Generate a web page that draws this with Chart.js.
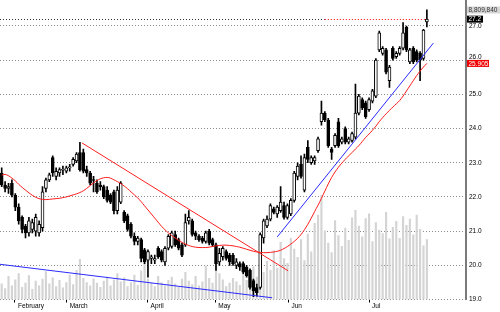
<!DOCTYPE html>
<html>
<head>
<meta charset="utf-8">
<title>Daily price chart</title>
<script src="https://cdn.jsdelivr.net/npm/chart.js@4.4.1/dist/chart.umd.min.js"></script>
<style>
  html, body { margin: 0; padding: 0; background: #fff; }
  #wrap { width: 500px; height: 312px; }
</style>
</head>
<body>
<div id="wrap"><canvas id="priceChart"></canvas></div>
<script>
// daily OHLC, index 0 = first session shown
const opens = [22.7,22.35,22.25,22.4,22.05,21.7,21.4,21.15,20.95,21.05,
  21.0,20.95,21.1,22.25,22.5,23.15,22.6,22.7,22.78,22.75,
  22.85,22.95,23.05,23.3,23.3,22.8,22.7,22.5,22.4,22.35,
  22.3,22.2,22.05,22.15,21.6,21.85,21.55,21.45,21.2,20.85,
  20.7,20.75,20.45,20.15,20.2,20.15,20.5,20.4,20.1,20.5,
  20.55,20.9,20.75,20.6,20.6,21.3,21.3,20.95,20.85,20.8,
  20.7,21.0,20.75,20.6,20.1,20.25,20.4,20.3,20.3,20.0,
  20.05,20.05,19.95,19.85,19.55,19.35,19.35,20.8,21.15,21.35,
  21.65,21.5,21.6,21.75,21.4,21.5,21.9,22.6,22.95,22.2,
  23.45,23.0,23.05,23.35,24.2,24.45,24.25,23.4,23.5,24.2,
  23.6,24.0,23.6,23.65,23.75,24.45,24.85,24.75,24.55,24.8,
  24.95,26.3,26.2,26.3,25.4,26.35,26.1,26.2,26.35,26.97,
  25.95,26.35,26.25,26.2,26.05,27.12];
const highs = [22.85,22.45,22.4,22.5,22.1,21.8,21.45,21.2,21.4,21.35,
  21.5,21.3,22.3,22.55,22.7,23.2,22.85,22.85,22.9,22.9,
  22.95,23.15,23.3,23.6,23.4,22.9,22.75,22.6,22.5,22.45,
  22.35,22.3,22.1,22.2,22.3,22.45,21.6,21.5,21.25,20.95,
  20.85,20.8,20.5,20.45,20.3,20.3,20.55,20.45,20.55,20.9,
  21.0,21.0,20.8,20.65,21.5,21.6,21.35,21.0,20.9,20.85,
  21.0,21.05,20.8,20.65,20.5,20.55,20.45,20.35,20.35,20.2,
  20.1,20.1,20.0,19.9,19.6,19.45,20.95,21.35,21.45,21.8,
  21.7,21.75,22.3,21.85,21.8,21.95,22.75,23.0,23.2,23.25,
  23.65,23.2,23.2,23.75,24.8,24.5,24.3,23.45,23.85,24.3,
  23.75,24.05,23.75,23.9,25.3,25.0,24.9,24.8,24.9,25.15,
  26.05,26.85,26.4,26.35,25.85,26.4,26.25,26.4,27.1,27.0,
  26.35,26.4,26.3,26.25,26.9,27.47];
const lows = [22.3,22.15,22.1,22.0,21.6,21.2,20.95,20.8,20.85,20.95,
  20.85,20.85,21.0,22.15,22.45,22.6,22.5,22.6,22.65,22.7,
  22.75,22.9,23.0,22.75,22.7,22.6,22.35,22.15,22.1,22.2,
  21.95,21.85,21.8,21.5,21.5,21.8,21.25,21.0,20.8,20.6,
  20.6,20.1,20.05,19.65,20.05,20.05,20.2,20.1,20.0,20.45,
  20.5,20.55,20.45,20.25,20.55,21.2,20.85,20.75,20.7,20.65,
  20.65,20.6,20.55,19.85,20.0,20.15,20.15,20.0,20.0,19.9,
  19.85,19.75,19.65,19.3,19.08,19.1,19.3,20.65,21.1,21.3,
  21.5,21.4,21.55,21.35,21.35,21.45,21.85,22.5,22.55,22.15,
  23.0,22.95,22.95,23.3,24.1,24.2,23.45,23.1,23.45,23.45,
  23.55,23.55,23.55,23.6,23.7,24.4,24.55,24.3,24.5,24.75,
  24.9,26.25,26.15,25.6,25.2,26.0,26.05,26.15,26.3,26.25,
  25.9,25.9,25.95,25.4,26.0,26.97];
const closes = [22.35,22.25,22.3,22.05,21.7,21.3,21.05,20.95,21.3,21.25,
  21.4,21.2,22.15,22.5,22.65,22.7,22.75,22.8,22.8,22.85,
  22.85,23.1,23.25,22.8,22.75,22.7,22.4,22.48,22.15,22.3,
  22.0,21.9,21.85,21.6,22.2,22.4,21.3,21.05,20.85,20.7,
  20.8,20.2,20.1,20.4,20.25,20.2,20.25,20.15,20.5,20.85,
  20.95,20.6,20.5,20.3,21.25,21.4,20.9,20.85,20.75,20.7,
  20.95,20.65,20.6,20.05,20.35,20.5,20.2,20.1,20.05,20.1,
  19.95,19.8,19.7,19.35,19.25,19.2,20.9,21.3,21.35,21.75,
  21.55,21.7,21.85,21.4,21.75,21.9,22.7,22.9,22.6,23.15,
  23.1,23.15,23.15,23.7,24.45,24.25,23.5,23.3,23.8,23.5,
  23.7,23.6,23.7,23.85,24.45,24.95,24.6,24.35,24.85,25.1,
  26.0,26.8,26.35,25.65,25.8,26.05,26.2,26.35,26.8,26.3,
  26.3,25.95,26.0,26.0,26.88,27.2];
// volume in millions of shares
const volumes = [2.3,1.6,3.4,2.0,2.9,3.8,1.8,2.4,3.5,1.5,
  2.7,2.0,3.0,4.1,2.3,3.2,1.9,2.8,1.7,2.5,
  3.6,2.2,4.3,5.9,3.1,2.5,2.0,3.0,2.4,1.8,
  2.7,3.3,2.0,2.9,3.8,2.6,3.2,1.9,2.5,3.6,
  2.1,4.2,5.3,3.0,2.4,1.9,3.4,2.5,2.0,2.8,
  3.3,2.3,1.8,3.0,4.0,2.7,2.2,3.4,2.0,2.6,
  4.9,3.1,2.4,5.9,3.8,2.9,1.9,2.4,3.1,2.6,
  2.1,3.5,2.8,3.9,4.8,3.3,4.6,4.0,5.6,4.3,
  7.2,4.6,8.4,6.0,5.3,9.0,7.4,6.2,8.8,5.7,
  9.6,7.0,11.2,12.4,15.3,10.1,8.3,6.9,11.6,9.4,
  7.8,10.5,8.7,12.0,13.1,10.8,9.2,11.9,12.6,8.5,
  11.3,10.2,9.7,12.8,8.9,10.6,11.5,9.0,12.2,10.9,
  11.8,9.5,12.4,10.3,7.9,8.80984];
// moving average
const movingAvg = [22.64,22.66,22.62,22.55,22.47,22.37,22.28,22.2,22.12,22.05,
  21.99,21.95,21.93,21.92,21.93,21.94,21.95,21.96,21.98,22.0,
  22.03,22.06,22.09,22.13,22.18,22.25,22.33,22.41,22.48,22.53,
  22.56,22.57,22.55,22.5,22.45,22.39,22.32,22.24,22.15,22.06,
  21.97,21.86,21.74,21.62,21.5,21.38,21.26,21.14,21.04,20.95,
  20.87,20.8,20.73,20.67,20.62,20.58,20.55,20.53,20.52,20.52,
  20.52,20.53,20.55,20.57,20.58,20.59,20.59,20.58,20.57,20.55,
  20.53,20.5,20.47,20.44,20.41,20.39,20.38,20.37,20.37,20.38,
  20.39,20.41,20.44,20.49,20.55,20.62,20.7,20.79,20.9,21.04,
  21.2,21.38,21.57,21.76,21.96,22.17,22.38,22.57,22.73,22.87,
  22.99,23.1,23.2,23.3,23.4,23.5,23.62,23.74,23.84,23.95,
  24.07,24.2,24.32,24.43,24.53,24.63,24.72,24.82,24.95,25.1,
  25.25,25.4,25.55,25.68,25.8,25.905];

const monthNames = ['February', 'March', 'April', 'May', 'Jun', 'Jul'];
const monthTicks = [3.9, 19.1, 42.9, 62.8, 84.3, 108];
const priceTicks = [19, 20, 21, 22, 23, 24, 25, 26, 27];

// trend lines drawn on the chart: [index, price] end points
const redTrend = [[23.6, 23.58], [84.2, 19.84]];
const blueDown = [[-0.5, 20.03], [79.5, 19.05]];
const blueUp = [[81, 20.83], [126.9, 26.5]];
const lastLineRedFrom = 95; // where the last-price line turns red

const SLOTS = 137; // sessions shown plus empty space on the right

const lastClose = closes[closes.length - 1];
const lastAvg = movingAvg[movingAvg.length - 1];
const lastVol = volumes[volumes.length - 1];

const toPts = arr => arr.map(p => ({x: p[0], y: p[1]}));
const wickData = closes.map((c, i) => ({x: i, y: [lows[i], highs[i]]}));
const bodyData = closes.map((c, i) => ({x: i, y: [Math.min(opens[i], c), Math.max(opens[i], c)]}));
const bodyFill = closes.map((c, i) => c >= opens[i] ? '#ffffff' : '#000000');
const volData = volumes.map((v, i) => ({x: i, y: v}));
const avgData = movingAvg.map((v, i) => ({x: i, y: v}));

const FONT = '"Liberation Sans", Arial, sans-serif';
Chart.defaults.font.family = FONT;
Chart.defaults.font.size = 6.5;
Chart.defaults.color = '#000';

// dotted line at the last close, behind the candles
const lastPriceLine = {
    id: 'lastPriceLine',
    beforeDatasetsDraw(chart) {
        const {ctx, chartArea, scales} = chart;
        const y = Math.round(scales.y.getPixelForValue(lastClose)) + 0.5;
        const xSplit = scales.x.getPixelForValue(lastLineRedFrom);
        const xEnd = scales.x.getPixelForValue(closes.length - 1);
        ctx.save();
        ctx.lineWidth = 1;
        ctx.setLineDash([1, 2]);
        ctx.strokeStyle = '#333';
        ctx.beginPath();
        ctx.moveTo(chartArea.left, y);
        ctx.lineTo(xSplit, y);
        ctx.stroke();
        ctx.strokeStyle = '#ff0000';
        ctx.beginPath();
        ctx.moveTo(xSplit, y);
        ctx.lineTo(xEnd, y);
        ctx.stroke();
        ctx.restore();
    }
};

// boxes at the right edge: last volume, last close, last moving average
const sideLabels = {
    id: 'sideLabels',
    afterDraw(chart) {
        const {ctx, chartArea, scales} = chart;
        const left = chartArea.right + 1;
        ctx.save();
        ctx.font = '6.5px ' + FONT;
        ctx.textBaseline = 'middle';
        const box = (text, y, w, bg, fg) => {
            ctx.fillStyle = bg;
            ctx.fillRect(left, y - 3.5, w, 7);
            ctx.fillStyle = fg;
            ctx.fillText(text, left + 1.5, y + 0.5);
        };
        // tick hidden under the average box gets nudged up
        const hidden = priceTicks.find(t => Math.abs(t - lastAvg) < 0.2);
        if (hidden !== undefined) {
            ctx.fillStyle = '#000';
            ctx.fillText(hidden.toFixed(1), chartArea.right + 3, scales.y.getPixelForValue(hidden) - 3);
        }
        box(Math.round(lastVol * 1e6).toLocaleString('en-US'), chartArea.top + 10, 33, '#d6d6d6', '#333');
        box(lastClose.toFixed(1), scales.y.getPixelForValue(lastClose), 16, '#000', '#fff');
        box(lastAvg.toFixed(3), scales.y.getPixelForValue(lastAvg), 22, '#f00000', '#fff');
        ctx.restore();
    }
};

const ctx = document.getElementById('priceChart').getContext('2d');
const chart = new Chart(ctx, {
    data: {
        datasets: [{
            type: 'line',
            label: 'MA',
            data: avgData,
            borderColor: '#ff1a1a',
            borderWidth: 1,
            pointRadius: 0,
            tension: 0.3,
            order: 1
        }, {
            type: 'line',
            label: 'down trend',
            data: toPts(redTrend),
            borderColor: '#ff2020',
            borderWidth: 1,
            pointRadius: 0,
            order: 1
        }, {
            type: 'line',
            label: 'support',
            data: toPts(blueDown),
            borderColor: '#2a2aff',
            borderWidth: 1,
            pointRadius: 0,
            order: 1
        }, {
            type: 'line',
            label: 'up trend',
            data: toPts(blueUp),
            borderColor: '#2a2aff',
            borderWidth: 1,
            pointRadius: 0,
            order: 1
        }, {
            type: 'bar',
            label: 'bodies',
            data: bodyData,
            backgroundColor: bodyFill,
            borderColor: '#000',
            borderWidth: 1,
            borderSkipped: false,
            barThickness: 3,
            minBarLength: 1,
            grouped: false,
            order: 2
        }, {
            type: 'bar',
            label: 'wicks',
            data: wickData,
            backgroundColor: '#000',
            borderWidth: 0,
            barThickness: 1,
            grouped: false,
            order: 3
        }, {
            type: 'bar',
            label: 'volume',
            data: volData,
            yAxisID: 'yv',
            backgroundColor: '#d4d4d4',
            borderWidth: 0,
            barThickness: 1.5,
            grouped: false,
            order: 5
        }]
    },
    options: {
        responsive: true,
        maintainAspectRatio: false,
        animation: false,
        devicePixelRatio: 1,
        layout: { padding: 0 },
        plugins: { legend: { display: false }, tooltip: { enabled: false } },
        scales: {
            x: {
                type: 'linear',
                offset: false,
                min: -0.5,
                max: SLOTS - 0.5,
                afterBuildTicks: s => { s.ticks = monthTicks.map(v => ({value: v})); },
                afterFit: s => { s.height = 12.5; s.paddingLeft = 0; s.paddingRight = 0; },
                ticks: {
                    autoSkip: false,
                    maxRotation: 0,
                    align: 'start',
                    labelOffset: 3,
                    padding: 0,
                    callback: (v, i) => monthNames[i]
                },
                grid: { offset: false, drawOnChartArea: false, drawTicks: true, tickLength: 3, color: '#000' },
                border: { display: false }
            },
            y: {
                position: 'right',
                min: 19,
                max: 27.76,
                afterBuildTicks: s => { s.ticks = priceTicks.map(v => ({value: v})); },
                afterFit: s => { s.width = 34; s.paddingTop = 0; s.paddingBottom = 0; },
                ticks: {
                    padding: 3,
                    crossAlign: 'near',
                    color: c => Math.abs(c.tick.value - lastAvg) < 0.2 ? 'rgba(0,0,0,0)' : '#000',
                    callback: v => v.toFixed(1)
                },
                grid: { color: '#8c8c8c', drawTicks: false },
                border: { display: true, color: '#7a7a7a', width: 2, dash: [1, 2] }
            },
            yv: {
                display: false,
                min: 0,
                max: 44
            }
        }
    },
    plugins: [lastPriceLine, sideLabels]
});
</script>
</body>
</html>
